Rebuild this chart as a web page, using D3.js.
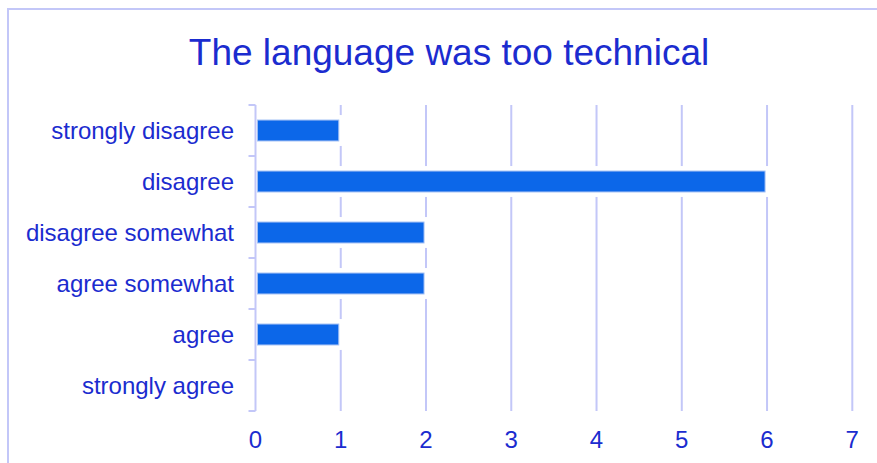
<!DOCTYPE html>
<html>
<head>
<meta charset="utf-8">
<script src="https://cdn.jsdelivr.net/npm/d3@7"></script>
<style>
  body { margin: 0; background: #fff; }
  svg { display: block; font-family: "Liberation Sans", Arial, sans-serif; }
</style>
</head>
<body>
<svg width="877" height="463"></svg>
<script>
(function (d3) {
  'use strict';

  const title = 'The language was too technical';
  const categories = ['strongly disagree', 'disagree', 'disagree somewhat', 'agree somewhat', 'agree', 'strongly agree'];
  const counts = [1, 6, 2, 2, 1, 0];
  const xTicks = [0, 1, 2, 3, 4, 5, 6, 7];

  const textColor = '#1b2ccf';
  const gridColor = '#c3c7f8';
  const barColor = '#0c67e9';

  const svg = d3.select('svg');
  const width = +svg.attr('width');
  const height = +svg.attr('height');

  const data = categories.map((c, i) => ({ label: c, value: counts[i] }));

  // frame
  svg.append('rect')
      .attr('x', 8)
      .attr('y', 9)
      .attr('width', width + 10)
      .attr('height', height + 10)
      .attr('fill', 'none')
      .attr('stroke', gridColor)
      .attr('stroke-width', 2);

  svg.append('text')
      .attr('x', 449)
      .attr('y', 65)
      .attr('text-anchor', 'middle')
      .attr('fill', textColor)
      .style('font-size', '37px')
      .text(title);

  const plotLeft = 255.5, plotRight = 852.3, plotTop = 105, plotBottom = 411;

  const xScale = d3.scaleLinear().domain([0, 7]).range([plotLeft, plotRight]);
  const yScale = d3.scaleBand()
    .domain(categories)
    .range([plotTop, plotBottom])
    .paddingInner(0.59)
    .paddingOuter(0.295);

  const g = svg.append('g');

  // vertical grid lines
  g.selectAll('.grid').data(xTicks.slice(1))
    .enter().append('line')
      .attr('x1', d => xScale(d))
      .attr('x2', d => xScale(d))
      .attr('y1', plotTop)
      .attr('y2', plotBottom)
      .attr('stroke', gridColor)
      .attr('stroke-width', 2);

  // white halo behind bars
  const bars = data.filter(d => d.value > 0);
  g.selectAll('.halo').data(bars)
    .enter().append('rect')
      .attr('x', xScale(0) + 2)
      .attr('y', d => yScale(d.label) - 5)
      .attr('width', d => xScale(d.value) - xScale(0) + 2)
      .attr('height', yScale.bandwidth() + 10)
      .attr('fill', '#fff');

  // y axis line with boundary ticks
  const boundaries = d3.range(categories.length + 1)
    .map(i => plotTop + i * (plotBottom - plotTop) / categories.length);
  g.append('line')
      .attr('x1', plotLeft).attr('x2', plotLeft)
      .attr('y1', plotTop).attr('y2', plotBottom)
      .attr('stroke', gridColor)
      .attr('stroke-width', 2);
  g.selectAll('.ytick').data(boundaries)
    .enter().append('line')
      .attr('x1', plotLeft - 7)
      .attr('x2', plotLeft)
      .attr('y1', d => d)
      .attr('y2', d => d)
      .attr('stroke', gridColor)
      .attr('stroke-width', 2);

  // bars
  g.selectAll('.bar').data(bars)
    .enter().append('rect')
      .attr('x', xScale(0) + 2)
      .attr('y', d => yScale(d.label))
      .attr('width', d => xScale(d.value) - xScale(0) - 4)
      .attr('height', yScale.bandwidth())
      .attr('fill', barColor)
      .attr('stroke', '#9ebdf4')
      .attr('stroke-width', 1);

  // category labels
  g.selectAll('.label').data(categories)
    .enter().append('text')
      .attr('x', 234)
      .attr('y', d => yScale(d) + yScale.bandwidth() / 2 + 8.5)
      .attr('text-anchor', 'end')
      .attr('fill', textColor)
      .style('font-size', '24px')
      .text(d => d);

  // x tick labels
  g.selectAll('.xlabel').data(xTicks)
    .enter().append('text')
      .attr('x', d => xScale(d))
      .attr('y', 448)
      .attr('text-anchor', 'middle')
      .attr('fill', textColor)
      .style('font-size', '24px')
      .text(d => d);

}(d3));
</script>
</body>
</html>
